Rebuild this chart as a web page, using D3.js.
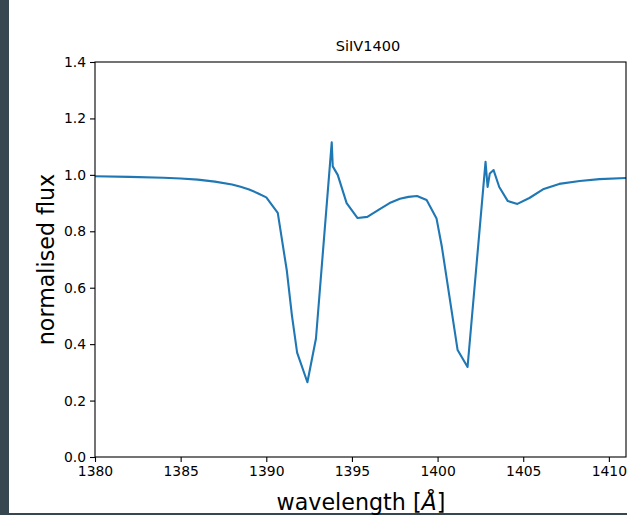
<!DOCTYPE html>
<html>
<head>
<meta charset="utf-8">
<script src="https://cdn.jsdelivr.net/npm/d3@7"></script>
<style>
  html, body { margin: 0; padding: 0; background: #fff; }
  svg { display: block; }
  text { font-family: "DejaVu Sans", sans-serif; fill: #000; }
</style>
</head>
<body>
<svg id="chart" width="627" height="515"></svg>
<script>
const title = "SiIV1400";
const xLabelMain = "wavelength [";
const xLabelUnit = "Å";
const xLabelEnd = "]";
const yLabel = "normalised flux";
const xTicks = [1380, 1385, 1390, 1395, 1400, 1405, 1410];
const yTicks = [0.0, 0.2, 0.4, 0.6, 0.8, 1.0, 1.2, 1.4];
const wavelength = [1380, 1382, 1384, 1385, 1386, 1387, 1388, 1388.5, 1389, 1389.5, 1390.0, 1390.67, 1391.2, 1391.5, 1391.8, 1392.4, 1392.9, 1393.82, 1393.88, 1394.17, 1394.69, 1395.33, 1395.9, 1396.6, 1397.2, 1397.8, 1398.3, 1398.8, 1399.36, 1399.94, 1400.25, 1401.17, 1401.75, 1402.8, 1402.92, 1403.05, 1403.27, 1403.6, 1404.1, 1404.66, 1405.36, 1406.2, 1407.1, 1408.3, 1409.45, 1411];
const flux = [0.995, 0.993, 0.990, 0.987, 0.983, 0.976, 0.966, 0.958, 0.948, 0.935, 0.92, 0.865, 0.66, 0.50, 0.37, 0.265, 0.42, 1.115, 1.03, 1.0, 0.90, 0.847, 0.851, 0.878, 0.90, 0.915, 0.922, 0.925, 0.911, 0.845, 0.745, 0.379, 0.319, 1.046, 0.957, 1.005, 1.017, 0.957, 0.907, 0.897, 0.918, 0.95, 0.968, 0.978, 0.985, 0.989];

const svg = d3.select("#chart");
const mLeft = 95, mRight = 626, mTop = 62, mBottom = 457;
const x = d3.scaleLinear().domain([1380, 1411]).range([mLeft, mRight]);
const y = d3.scaleLinear().domain([0, 1.4]).range([mBottom, mTop]);

// frame strips
svg.append("rect").attr("x", 0).attr("y", 0).attr("width", 9).attr("height", 515).attr("fill", "#37474f");
svg.append("rect").attr("x", 0).attr("y", 513).attr("width", 627).attr("height", 2).attr("fill", "#37474f");

const data = wavelength.map((w, i) => [w, flux[i]]);
svg.append("path")
  .datum(data)
  .attr("fill", "none")
  .attr("stroke", "#1f77b4")
  .attr("stroke-width", 2.1)
  .attr("stroke-linejoin", "round")
  .attr("d", d3.line().x(d => x(d[0])).y(d => y(d[1])));

const xAxis = svg.append("g").attr("transform", `translate(0,${mBottom})`)
  .call(d3.axisBottom(x).tickValues(xTicks).tickSize(5).tickPadding(4).tickFormat(d3.format("d")));
const yAxis = svg.append("g").attr("transform", `translate(${mLeft},0)`)
  .call(d3.axisLeft(y).tickValues(yTicks).tickSize(5).tickPadding(4).tickFormat(d3.format(".1f")));
[xAxis, yAxis].forEach(g => {
  g.select(".domain").remove();
  g.selectAll("line").attr("stroke", "#000").attr("stroke-width", 1.1);
  g.selectAll("text").style("font-family", "DejaVu Sans").style("font-size", "13.9px").attr("fill", "#000");
});

// spines
svg.append("rect").attr("x", mLeft).attr("y", mTop).attr("width", mRight - mLeft).attr("height", mBottom - mTop)
  .attr("fill", "none").attr("stroke", "#000").attr("stroke-width", 1.1);

svg.append("text").attr("x", 368).attr("y", 51).attr("text-anchor", "middle")
  .style("font-size", "14.5px").text(title);
const xl = svg.append("text").attr("x", 361).attr("y", 510).attr("text-anchor", "middle")
  .style("font-size", "22.2px");
xl.append("tspan").text(xLabelMain);
xl.append("tspan").style("font-style", "italic").text(xLabelUnit);
xl.append("tspan").text(xLabelEnd);
svg.append("text").attr("transform", `translate(54,${(mTop + mBottom) / 2}) rotate(-90)`)
  .attr("text-anchor", "middle").style("font-size", "22.2px").text(yLabel);
</script>
</body>
</html>
